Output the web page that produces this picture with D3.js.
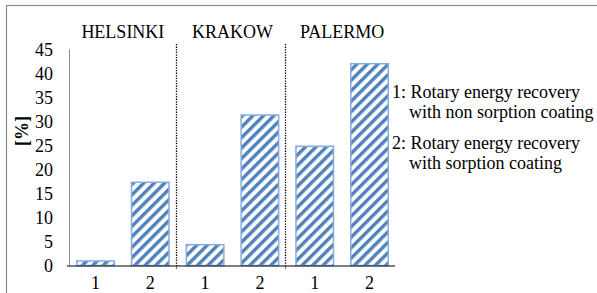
<!DOCTYPE html>
<html>
<head>
<meta charset="utf-8">
<script src="https://cdn.jsdelivr.net/npm/d3@7"></script>
<style>
html,body{margin:0;padding:0;background:#fff;}
svg{display:block;}
svg text{font-family:"Liberation Serif","Times New Roman","DejaVu Serif",serif !important;fill:#000;}
</style>
</head>
<body>
<svg id="chart" width="597" height="293"></svg>
<script>
const cities = ["HELSINKI", "KRAKOW", "PALERMO"];
const variants = ["1", "2"];
const helsinki = [1.1, 17.5];
const krakow = [4.5, 31.5];
const palermo = [25.0, 42.2];
const yTicks = [0, 5, 10, 15, 20, 25, 30, 35, 40, 45];
const legendLines = [
  ["1: Rotary energy recovery", "with non sorption coating"],
  ["2: Rotary energy recovery", "with sorption coating"]
];

const FONT = "'Liberation Serif', 'Times New Roman', 'DejaVu Serif', serif";
const seriesByCity = [helsinki, krakow, palermo];
const rows = [];
cities.forEach((c, ci) => variants.forEach((v, vi) => rows.push({key: c + "-" + v, city: c, ci, label: v, value: seriesByCity[ci][vi]})));

const svg = d3.select("#chart").attr("font-family", FONT);
const blue = "#4f81bd";

const defs = svg.append("defs");
const pat = defs.append("pattern").attr("id", "hatch").attr("patternUnits", "userSpaceOnUse")
  .attr("width", 7.4).attr("height", 7.4).attr("patternTransform", "rotate(45)");
pat.append("rect").attr("width", 7.4).attr("height", 7.4).attr("fill", "#fff");
pat.append("rect").attr("width", 3.4).attr("height", 7.4).attr("fill", blue);

// outer frame
svg.append("rect").attr("x", 6.5).attr("y", 5.5).attr("width", 620).attr("height", 320)
  .attr("fill", "none").attr("stroke", "#8c8c8c").attr("stroke-width", 1.2);

const x = d3.scaleBand().domain(rows.map(d => d.key)).range([69, 396]).paddingInner(0.288).paddingOuter(0.127);
const y = d3.scaleLinear().domain([0, 45]).range([265.5, 49.5]);

// y axis line
svg.append("line").attr("x1", 69.5).attr("x2", 69.5).attr("y1", y(45)).attr("y2", y(0))
  .attr("stroke", "#8c8c8c").attr("stroke-width", 1);

// y tick labels
const yAxis = d3.axisLeft(y).tickValues(yTicks).tickSize(0).tickPadding(0);
const yg = svg.append("g").attr("transform", "translate(53,0)").call(yAxis).attr("font-family", FONT).attr("font-size", 18);
yg.select(".domain").remove();
yg.selectAll("text").attr("fill", "#000").attr("dy", "0.34em");

// y label
svg.append("text").attr("transform", `translate(28,${y(28)}) rotate(-90)`).attr("text-anchor", "middle")
  .attr("font-size", 18).attr("font-weight", "bold").text("[%]");

// bars
svg.append("g").selectAll("rect").data(rows).join("rect")
  .attr("x", d => x(d.key) + 0.75).attr("width", x.bandwidth() - 1.5)
  .attr("y", d => y(d.value) + 0.75).attr("height", d => y(0) - y(d.value) - 0.75)
  .attr("fill", "url(#hatch)").attr("stroke", "#86acdf").attr("stroke-width", 1.5);

// baseline
svg.append("line").attr("x1", 67).attr("x2", 395).attr("y1", y(0) + 0.5).attr("y2", y(0) + 0.5)
  .attr("stroke", "#000").attr("stroke-width", 1.2);

// x labels
const xAxis = d3.axisBottom(x).tickSize(0).tickPadding(0).tickFormat(k => rows.find(r => r.key === k).label);
const xg = svg.append("g").attr("transform", `translate(0,${y(0)})`).call(xAxis).attr("font-family", FONT).attr("font-size", 18);
xg.select(".domain").remove();
xg.selectAll("text").attr("fill", "#000").attr("dy", "0").attr("y", 23);

// separators and group titles
const groupEdges = cities.map((c, ci) => {
  const ks = rows.filter(r => r.ci === ci).map(r => r.key);
  return {c, x0: x(ks[0]), x1: x(ks[ks.length - 1]) + x.bandwidth()};
});
for (let i = 0; i < groupEdges.length - 1; i++) {
  const sx = Math.round((groupEdges[i].x1 + groupEdges[i + 1].x0) / 2) - 1.5;
  svg.append("line").attr("x1", sx).attr("x2", sx).attr("y1", 44).attr("y2", y(0) + 3)
    .attr("stroke", "#000").attr("stroke-width", 1.3).attr("stroke-dasharray", "1.3,1.3");
}
svg.append("g").selectAll("text").data(groupEdges).join("text")
  .attr("x", d => (d.x0 + d.x1) / 2).attr("y", 37.5).attr("text-anchor", "middle")
  .attr("font-size", 18).text(d => d.c);

// legend
const legY = [[97.5, 117.5], [148.5, 169]];
legendLines.forEach((lines, i) => {
  svg.append("text").attr("x", 392).attr("y", legY[i][0]).attr("font-size", 18).text(lines[0]);
  svg.append("text").attr("x", 409).attr("y", legY[i][1]).attr("font-size", 18).text(lines[1]);
});
</script>
</body>
</html>
